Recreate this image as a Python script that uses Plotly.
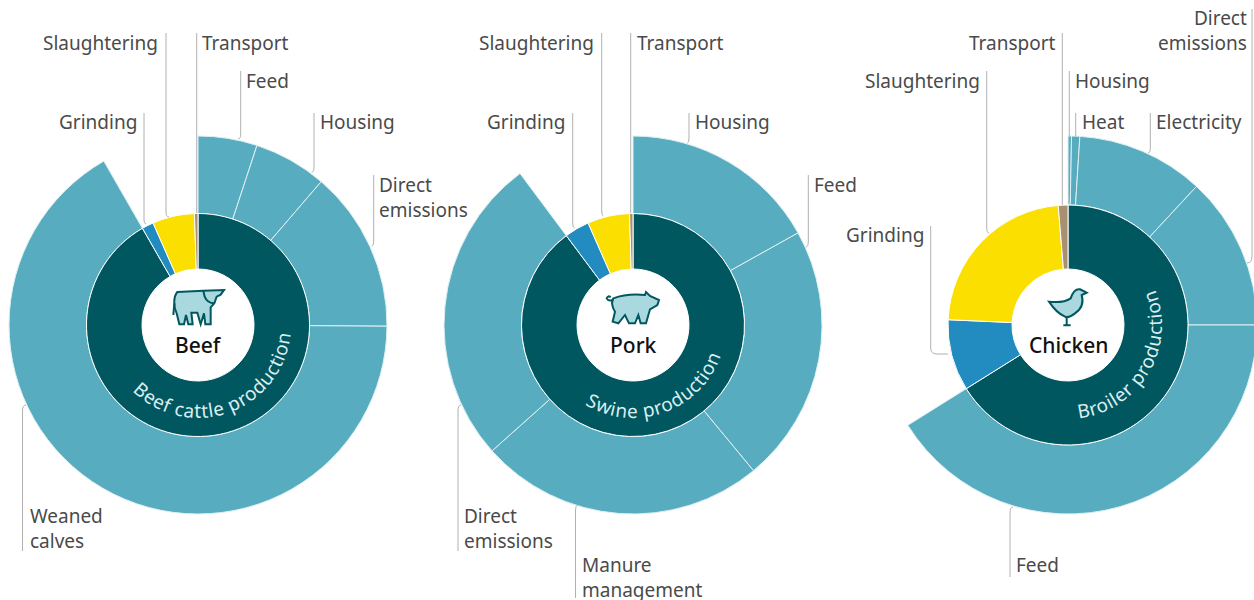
import plotly.graph_objects as go

# ---- data: share of footprint, percent ----
beef_stages = ["Feed", "Housing", "Direct emissions", "Weaned calves"]
beef_values = [5.05, 6.25, 13.8, 66.6]
beef_other_stages = ["Grinding", "Slaughtering", "Transport"]
beef_other_values = [1.7, 6.1, 0.5]

pork_stages = ["Housing", "Feed", "Manure management", "Direct emissions"]
pork_values = [16.9, 22.1, 24.4, 26.4]
pork_other_stages = ["Grinding", "Slaughtering", "Transport"]
pork_other_values = [3.6, 6.1, 0.5]

chicken_stages = ["Housing", "Heat", "Electricity", "Direct emissions", "Feed"]
chicken_values = [0.3, 0.7, 10.9, 13.1, 41.1]
chicken_other_stages = ["Grinding", "Slaughtering", "Transport"]
chicken_other_values = [9.6, 23.0, 1.3]

production_names = ["Beef cattle production", "Swine production", "Broiler production"]
animals = ["Beef", "Pork", "Chicken"]

# ---- style / layout ----
W, H = 1262, 600
FONT = "Noto Sans, sans-serif"
TEXT = "#4a4a4a"
TEAL = "#57acbf"
DARK = "#00575f"
BLUE = "#228bbf"
YELLOW = "#fadf00"
TAN = "#a89070"
LEAD = "#b0b0b0"
ICON = "#a9d8df"
CY = 325
R_OUT = 189
R_HOLE = 56
charts = [
    (198, 111.5, beef_stages, beef_values, beef_other_stages, beef_other_values),
    (633, 111.5, pork_stages, pork_values, pork_other_stages, pork_other_values),
    (1068, 120, chicken_stages, chicken_values, chicken_other_stages, chicken_other_values),
]

def px(x):
    return x / W

def py(y):
    return 1 - y / H

def dom(cx, r):
    return dict(x=[px(cx - r), px(cx + r)], y=[py(CY + r), py(CY - r)])

fig = go.Figure()
for cx, r_in, stages, values, others, other_values in charts:
    blank = sum(other_values)
    fig.add_trace(go.Pie(
        labels=stages + ["(other stages)"], values=values + [blank], sort=False,
        direction="clockwise", rotation=0, hole=r_in / R_OUT, domain=dom(cx, R_OUT),
        textinfo="none", hoverinfo="skip", showlegend=False,
        marker=dict(colors=[TEAL] * len(values) + ["rgba(0,0,0,0)"],
                    line=dict(color="#dff0f3", width=[1] * len(values) + [0])),
    ))
    fig.add_trace(go.Pie(
        labels=["Production"] + others, values=[sum(values)] + other_values, sort=False,
        direction="clockwise", rotation=0, hole=R_HOLE / r_in, domain=dom(cx, r_in),
        textinfo="none", hoverinfo="skip", showlegend=False,
        marker=dict(colors=[DARK, BLUE, YELLOW, TAN], line=dict(color="white", width=1)),
    ))

# ---- labels ----
label_layout = [
    ("Slaughtering", 160, 43, "right"), ("Transport", 200, 43, "left"), ("Feed", 244, 81, "left"),
    ("Housing", 318, 122, "left"), ("Direct<br>emissions", 377, 197, "left"),
    ("Grinding", 139, 122, "right"), ("Weaned<br>calves", 28, 528, "left"),
    ("Slaughtering", 596, 43, "right"), ("Transport", 635, 43, "left"), ("Housing", 693, 122, "left"),
    ("Feed", 812, 185, "left"), ("Grinding", 567, 122, "right"),
    ("Direct<br>emissions", 462, 528, "left"), ("Manure<br>management", 580, 577, "left"),
    ("Transport", 1058, 43, "right"), ("Slaughtering", 982, 81, "right"), ("Housing", 1073, 81, "left"),
    ("Heat", 1080, 122, "left"), ("Electricity", 1154, 122, "left"),
    ("Direct<br>emissions", 1249, 30, "right"), ("Grinding", 926, 235, "right"), ("Feed", 1014, 565, "left"),
]
ann = [dict(text=t, x=px(x), y=py(y), xref="paper", yref="paper", xanchor=a, yanchor="middle", align=a,
            showarrow=False, font=dict(family=FONT, size=19, color=TEXT))
       for t, x, y, a in label_layout]
for (cx, *_), name in zip(charts, animals):
    ann.append(dict(text=name, x=px(cx), y=py(345), xref="paper", yref="paper", xanchor="center",
                    yanchor="middle", showarrow=False,
                    font=dict(family=FONT, size=21, color="#111111", weight=500)))

# ---- leader lines: straight run then small curved end ----
leaders = [
    (166, 33, 166, 212, 169, 217), (196.7, 33, 196.7, 213, None, None), (240.7, 71, 240.7, 134, 238, 139),
    (314, 113, 314, 167, 311.7, 172), (373.7, 175, 373.7, 241, 371.7, 246), (144, 113, 144, 220, 146, 224),
    (22.5, 551, 22.5, 411, 26, 405),
    (601.7, 33, 601.7, 211, 603.5, 216), (630.7, 33, 630.7, 213, None, None), (689, 113, 689, 138, 687.3, 143),
    (808.3, 175, 808.3, 241, 806, 247), (572.7, 113, 572.7, 223, 574.7, 228),
    (458, 551, 458, 411, 461, 405), (575.5, 598, 575.5, 511, 578, 505),
    (1062.3, 33, 1062.3, 205, None, None), (986.7, 71, 986.7, 227, 989, 233), (1069.3, 71, 1069.3, 136, None, None),
    (1075.7, 113, 1075.7, 136, None, None), (1150.3, 113, 1150.3, 148, 1148, 153),
    (1252, 9, 1252, 256, 1247, 263), (1010, 577, 1010, 513, 1013, 507),
]
shapes = []
for x0, y0, x1, y1, ex, ey in leaders:
    p = f"M{px(x0)} {py(y0)} L{px(x1)} {py(y1)}"
    if ex is not None:
        p += f" Q{px(x1)} {py(ey)} {px(ex)} {py(ey)}"
    shapes.append(dict(type="path", path=p, xref="paper", yref="paper", line=dict(color=LEAD, width=1)))
p = f"M{px(930.7)} {py(226)} L{px(930.7)} {py(348)} Q{px(930.7)} {py(354)} {px(937)} {py(354)} L{px(948)} {py(354)}"
shapes.append(dict(type="path", path=p, xref="paper", yref="paper", line=dict(color=LEAD, width=1)))

# ---- icons (outlines in zoom-crop units) ----
def icon(ox, oy, cmds, fill):
    out = []
    for c in cmds:
        if isinstance(c, str):
            out.append(c)
        else:
            out.append(f"{px(ox + c[0] / 3)} {py(oy + c[1] / 3)}")
    return dict(type="path", path=" ".join(out), xref="paper", yref="paper",
                fillcolor=fill, line=dict(color=DARK, width=2))

cow = ["M", (172, 66), "L", (250, 62), "L", (312, 60), "L", (302, 74), "L", (290, 80), "L", (283, 100), "L", (272, 112),
       "L", (272, 163), "L", (256, 163), "L", (252, 130), "L", (242, 163), "L", (232, 128), "L", (214, 128), "L", (218, 163),
       "L", (205, 163), "L", (198, 135), "L", (192, 163), "L", (178, 163), "L", (170, 130),
       "C", (160, 110), (160, 80), (172, 66), "Z"]
cow2 = ["M", (250, 62), "L", (254, 80), "Q", (262, 100), (283, 100)]
cow3 = ["M", (163, 100), "L", (160, 135)]
pig = ["M", (160, 85), "Q", (200, 70), (255, 75), "L", (258, 66), "L", (270, 78), "L", (297, 90), "L", (292, 105), "L", (270, 118),
       "L", (258, 160), "L", (242, 160), "L", (235, 135), "L", (225, 160), "L", (207, 160), "L", (195, 135), "L", (175, 160),
       "L", (158, 155), "L", (165, 125), "Q", (150, 100), (160, 85), "Z"]
pig2 = ["M", (160, 90), "Q", (145, 95), (140, 85), "Q", (145, 75), (152, 82)]
hen = ["M", (147, 95), "Q", (190, 100), (212, 85), "Q", (222, 55), (240, 58), "L", (260, 68), "L", (245, 75),
       "Q", (255, 110), (225, 130), "Q", (205, 145), (195, 140), "Q", (170, 130), (147, 95), "Z"]
hen2 = ["M", (200, 140), "L", (200, 165), "M", (190, 166), "L", (212, 166)]
shapes += [icon(120, 270, cow, ICON), icon(120, 270, cow2, "rgba(0,0,0,0)"), icon(120, 270, cow3, "rgba(0,0,0,0)"),
           icon(560, 270, pig, ICON), icon(560, 270, pig2, "rgba(0,0,0,0)"),
           icon(1000, 270, hen, ICON), icon(1000, 270, hen2, "rgba(0,0,0,0)")]

fig.update_layout(width=W, height=H, margin=dict(l=0, r=0, t=0, b=0), paper_bgcolor="white",
                  plot_bgcolor="white", showlegend=False, annotations=ann, shapes=shapes)

# ---- curved ring captions as real SVG text on a circular baseline ----
post = """
document.documentElement.style.overflow='hidden';
document.body.style.margin='0';document.body.style.overflow='hidden';
(function(){
var NS='http://www.w3.org/2000/svg';
var svgs=document.querySelectorAll('.main-svg');var svg=svgs[svgs.length-1];
var items=%s;
items.forEach(function(it,i){
  var r=it[2],c=it[0],m=it[3],s=(m+150)*Math.PI/180,e=(m-150)*Math.PI/180;
  var d='M'+(c+r*Math.sin(s))+' '+(%d-r*Math.cos(s))+' A'+r+' '+r+' 0 1 0 '+(c+r*Math.sin(e))+' '+(%d-r*Math.cos(e));
  var p=document.createElementNS(NS,'path');p.setAttribute('id','ringpath'+i);p.setAttribute('d',d);p.setAttribute('fill','none');
  svg.appendChild(p);
  var t=document.createElementNS(NS,'text');
  t.setAttribute('fill','#d9eef1');t.setAttribute('text-anchor','middle');
  t.style.fontFamily='Noto Sans, sans-serif';t.style.fontSize='19px';t.style.letterSpacing='0.6px';
  var tp=document.createElementNS(NS,'textPath');tp.setAttribute('href','#ringpath'+i);tp.setAttribute('startOffset','50%%');
  tp.textContent=it[1];t.appendChild(tp);svg.appendChild(t);
});
})();
""" % (str([[198, production_names[0], 93, 160], [633, production_names[1], 93, 160], [1068, production_names[2], 94, 120.5]]), CY, CY)

fig.write_html("out.html", post_script=post, config=dict(displayModeBar=False))
